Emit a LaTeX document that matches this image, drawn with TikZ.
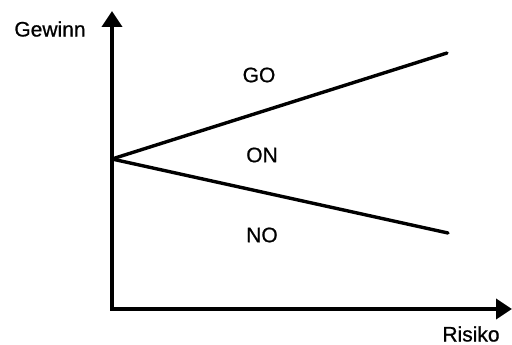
\documentclass[tikz,border=0pt]{standalone}
\usepackage{fontspec}
\setmainfont{Liberation Sans}
\newfontfamily\lblfont{Liberation Sans}[FakeBold=0.8]
\usetikzlibrary{arrows.meta}
\begin{document}
\begin{tikzpicture}[x=1pt,y=-1pt,
  axis/.style={line width=3.8pt,-{Triangle[width=20pt,length=16pt]}},
  ray/.style={line width=3.4pt,line cap=round},
  lbl/.style={font=\lblfont\fontsize{21}{24}\selectfont,inner sep=0pt}]
\useasboundingbox (0,0) rectangle (512,345);
\coordinate (O) at (112,309);
\coordinate (ytip) at (112,11);
\coordinate (xtip) at (512,309);
\coordinate (apex) at (112,159);
\coordinate (up) at (447,53);
\coordinate (low) at (448,233);
\draw[axis] ([yshift=2pt]O) -- (ytip);
\draw[axis] ([xshift=-2pt]O) -- (xtip);
\draw[ray] (apex) -- (up);
\draw[ray] (apex) -- (low);
\node[lbl] (gewinn) at (50,29) {Gewinn};
\node[lbl] (risiko) at (471,334) {Risiko};
\node[lbl] (go) at (259,75) {GO};
\node[lbl] (on) at (262,155) {ON};
\node[lbl] (no) at (262,235) {NO};
\end{tikzpicture}
\end{document}
